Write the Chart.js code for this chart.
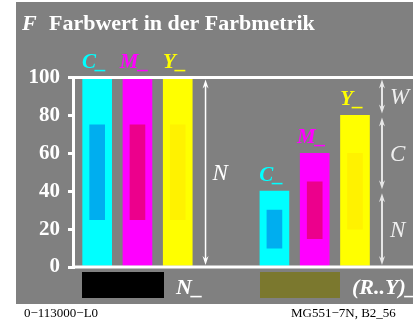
<!DOCTYPE html>
<html>
<head>
<meta charset="utf-8">
<script src="https://cdn.jsdelivr.net/npm/chart.js@4"></script>
<style>
  html, body { margin: 0; padding: 0; background: #fff; }
  #wrap { width: 413px; height: 324px; }
</style>
</head>
<body>
<div id="wrap"><canvas id="farbwert-chart" width="413" height="324"></canvas></div>
<script>
'use strict';

// values
var categories = ['C', 'M', 'Y', 'C', 'M', 'Y'];
var barValues = [100, 100, 100, 40, 60, 80];
var innerLow = [25, 25, 25, 10, 15, 20];
var innerHigh = [75, 75, 75, 30, 45, 60];
var yTicks = [0, 20, 40, 60, 80, 100];
var rightSegments = [100, 80, 40, 0];
var rightLabels = ['W', 'C', 'N'];

var outerColors = { C: '#00ffff', M: '#ff00ff', Y: '#ffff00' };
var innerColors = { C: '#00aeef', M: '#ec008c', Y: '#fff200' };

function $each(arr, fn) {
    for (var i = 0; i < arr.length; i++) { fn(i, arr[i]); }
}

// bar centres: two groups of three, second group shifted
var xOf = function(i) {
    return i < 3 ? i : i + 1.4;
};

var outerData = [];
var innerData = [];
$each(categories, function(i, c) {
    outerData.push({ x: xOf(i), y: [0, barValues[i]] });
    innerData.push({ x: xOf(i), y: [innerLow[i], innerHigh[i]] });
});

var serif = '"Liberation Serif", "DejaVu Serif", serif';

function arrowHead(ctx, x, y, dir) {
    ctx.beginPath();
    ctx.moveTo(x, y);
    ctx.lineTo(x - 3, y - dir * 9);
    ctx.lineTo(x, y - dir * 6);
    ctx.lineTo(x + 3, y - dir * 9);
    ctx.closePath();
    ctx.fill();
}

function vArrow(ctx, x, y1, y2, color, lw) {
    ctx.save();
    ctx.strokeStyle = color;
    ctx.fillStyle = color;
    ctx.lineWidth = lw;
    ctx.beginPath();
    ctx.moveTo(x, y1 + 4);
    ctx.lineTo(x, y2 - 4);
    ctx.stroke();
    arrowHead(ctx, x, y1, -1);
    arrowHead(ctx, x, y2, 1);
    ctx.restore();
}

var decorations = {
    id: 'decorations',
    beforeDraw: function(chart) {
        var ctx = chart.ctx;
        ctx.save();
        ctx.fillStyle = '#ffffff';
        ctx.fillRect(0, 0, chart.width, chart.height);
        ctx.fillStyle = '#808080';
        ctx.fillRect(16, 2, chart.width - 16, 302);
        // title
        ctx.fillStyle = '#ffffff';
        ctx.textBaseline = 'alphabetic';
        ctx.font = 'bold italic 22px ' + serif;
        ctx.fillText('F', 22, 30);
        ctx.font = 'bold 22px ' + serif;
        ctx.fillText('Farbwert in der Farbmetrik', 49, 30);
        // footer
        ctx.fillStyle = '#000000';
        ctx.font = '13px ' + serif;
        ctx.fillText('0\u2212113000\u2212L0', 24, 317);
        ctx.fillText('MG551\u22127N, B2_56', 291, 317);
        ctx.restore();
    },
    afterDatasetsDraw: function(chart) {
        var ctx = chart.ctx;
        var xs = chart.scales.x;
        var ys = chart.scales.y;
        var area = chart.chartArea;
        ctx.save();
        // top and bottom lines
        ctx.strokeStyle = '#ffffff';
        ctx.lineWidth = 3;
        ctx.beginPath();
        ctx.moveTo(area.left, ys.getPixelForValue(100));
        ctx.lineTo(chart.width, ys.getPixelForValue(100));
        ctx.moveTo(area.left, ys.getPixelForValue(0));
        ctx.lineTo(chart.width, ys.getPixelForValue(0));
        ctx.stroke();

        // bar labels
        ctx.font = 'bold italic 21px ' + serif;
        ctx.textAlign = 'center';
        $each(categories, function(i, c) {
            ctx.fillStyle = outerColors[c];
            ctx.fillText(c + '_', xs.getPixelForValue(xOf(i)) - 3, ys.getPixelForValue(barValues[i]) - 10);
        });

        // left arrow N
        var xa = xs.getPixelForValue(2.69);
        vArrow(ctx, xa, ys.getPixelForValue(100) + 2, ys.getPixelForValue(0) - 2, '#ffffff', 1.5);
        ctx.fillStyle = '#ffffff';
        ctx.font = 'italic 23px ' + serif;
        ctx.textAlign = 'left';
        ctx.fillText('N', xa + 7, 180);

        // right arrows W, C, N
        var xr = xs.getPixelForValue(7.07);
        for (var k = 0; k < rightLabels.length; k++) {
            var ya = ys.getPixelForValue(rightSegments[k]);
            var yb = ys.getPixelForValue(rightSegments[k + 1]);
            vArrow(ctx, xr, ya + 2, yb - 2, '#e6e6e6', 2);
            ctx.fillStyle = '#eeeeee';
            ctx.fillText(rightLabels[k], xr + 8, (ya + yb) / 2 + 8);
        }

        // swatches below the axis
        ctx.fillStyle = '#000000';
        ctx.fillRect(82, 272, 82, 26);
        ctx.fillStyle = '#7b782e';
        ctx.fillRect(260, 272, 80, 26);
        ctx.fillStyle = '#ffffff';
        ctx.font = 'bold italic 22px ' + serif;
        ctx.fillText('N_', 176, 294);
        ctx.fillText('(R..Y)_', 352, 294);
        ctx.restore();
    }
};

var ctxFarb = document.getElementById('farbwert-chart').getContext('2d');
var farbChart = new Chart(ctxFarb, {
    type: 'bar',
    data: {
        datasets: [
            {
                data: innerData,
                backgroundColor: categories.map(function(c) { return innerColors[c]; }),
                barThickness: 15,
                order: 0
            },
            {
                data: outerData,
                backgroundColor: categories.map(function(c) { return outerColors[c]; }),
                barThickness: 29,
                order: 1
            }
        ]
    },
    options: {
        responsive: false,
        animation: false,
        events: [],
        layout: { padding: { left: 0, right: 0, top: 77.5, bottom: 57 } },
        datasets: { bar: { grouped: false } },
        plugins: { legend: { display: false }, tooltip: { enabled: false } },
        scales: {
            x: {
                type: 'linear',
                display: false,
                offset: false,
                min: -0.6,
                max: 7.84
            },
            y: {
                min: 0,
                max: 100,
                afterFit: function(scale) { scale.width = 73; },
                afterBuildTicks: function(scale) {
                    scale.ticks = yTicks.map(function(v) { return { value: v }; });
                },
                border: { color: '#ffffff', width: 3 },
                grid: {
                    drawOnChartArea: false,
                    color: '#ffffff',
                    lineWidth: 3,
                    tickLength: 5
                },
                ticks: {
                    color: '#ffffff',
                    padding: 8,
                    font: { family: serif, size: 21, weight: 'bold' }
                }
            }
        }
    },
    plugins: [decorations]
});
</script>
</body>
</html>
